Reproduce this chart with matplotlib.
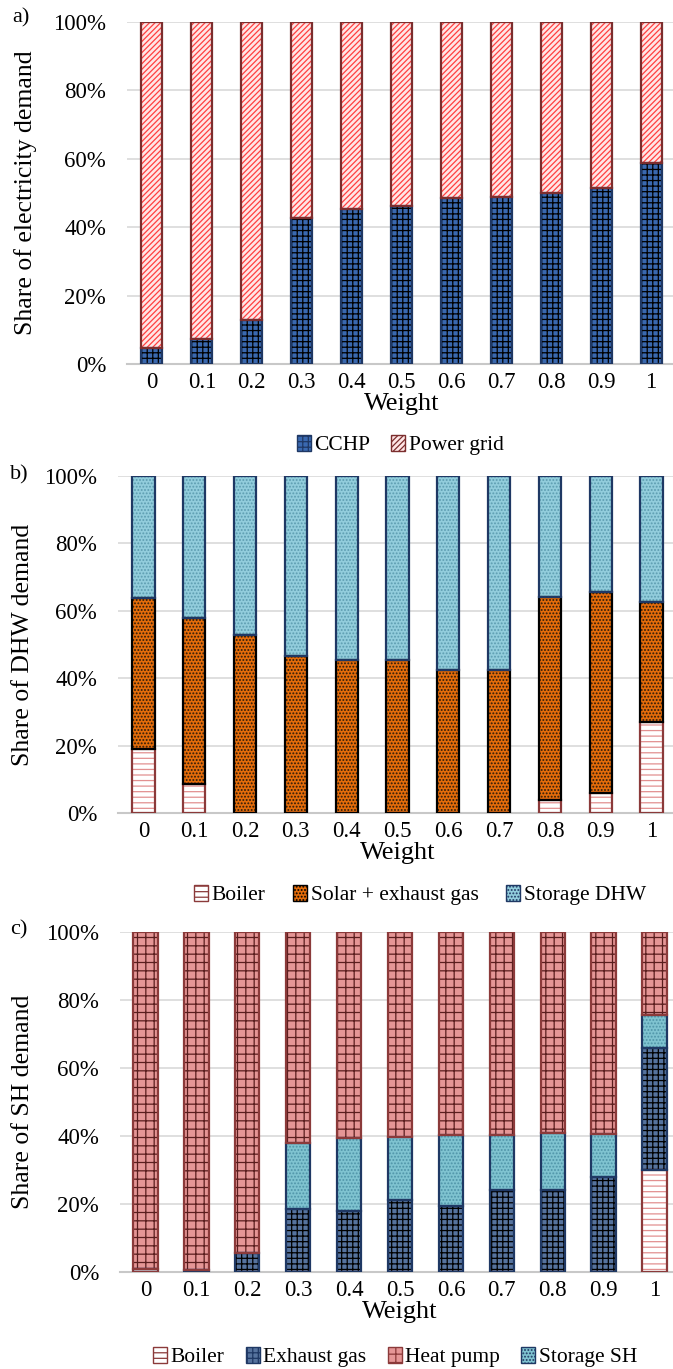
import matplotlib
matplotlib.use("Agg")
import matplotlib.pyplot as plt
from matplotlib.patches import Patch
import numpy as np

# ---------------- data ----------------
weights = ["0", "0.1", "0.2", "0.3", "0.4", "0.5", "0.6", "0.7", "0.8", "0.9", "1"]

# a) electricity (%)
cchp = [4.7, 7.3, 13.0, 42.6, 45.4, 46.3, 48.6, 48.8, 50.0, 51.4, 58.7]
power_grid = [100 - v for v in cchp]

# b) DHW (%)
dhw_boiler = [19.0, 8.7, 0, 0, 0, 0, 0, 0, 3.8, 5.9, 26.9]
dhw_solar_top = [63.7, 57.8, 52.9, 46.7, 45.5, 45.5, 42.3, 42.3, 64.0, 65.7, 62.7]
dhw_solar = [t - b for t, b in zip(dhw_solar_top, dhw_boiler)]
dhw_storage = [100 - t for t in dhw_solar_top]

# c) SH (%)
sh_boiler = [1.0, 0, 0, 0, 0, 0, 0, 0, 0, 0, 30.1]
sh_exhaust_top = [1.0, 0.5, 5.6, 18.4, 17.9, 21.3, 19.5, 24.2, 24.0, 28.0, 65.8]
sh_storage_top = [1.0, 0.5, 5.6, 37.8, 39.5, 39.7, 40.2, 40.2, 40.9, 40.7, 75.5]
sh_exhaust = [t - b for t, b in zip(sh_exhaust_top, sh_boiler)]
sh_storage = [s - e for s, e in zip(sh_storage_top, sh_exhaust_top)]
sh_heatpump = [100 - s for s in sh_storage_top]

# ---------------- style ----------------
W, H = 673, 1369
fig = plt.figure(figsize=(W / 100, H / 100), dpi=100)
plt.rcParams['font.family'] = ['Liberation Serif', 'DejaVu Serif']
plt.rcParams['hatch.linewidth'] = 0.9

def px_axes(left, top, right, bottom):
    return fig.add_axes([left / W, 1 - bottom / H, (right - left) / W, (bottom - top) / H])

STY = {
    'cchp':      dict(face='#3A69B0', hatch='+++', hc='#000000', edge='#1F3864'),
    'grid':      dict(face='#FFE6E6', hatch='//////', hc='#FF4040', edge='#7B2E2E'),
    'boiler':    dict(face='#FFFFFF', hatch='---', hc='#E29090', edge='#8B3A3A'),
    'solar':     dict(face='#E46C0A', hatch='.....', hc='#2A1A0A', edge='#000000'),
    'stor_dhw':  dict(face='#92CDDC', hatch='.....', hc='#5C9CB0', edge='#1F3864'),
    'exhaust':   dict(face='#56739E', hatch='+++', hc='#000000', edge='#1F3864'),
    'heatpump':  dict(face='#E59696', hatch='++', hc='#5A1E1E', edge='#8B3A3A'),
    'stor_sh':   dict(face='#7FC3D0', hatch='.....', hc='#4F94A8', edge='#1F3864'),
}

def draw_stack(ax, series, keys, width):
    x = np.arange(len(weights))
    bottom = np.zeros(len(weights))
    for vals, k in zip(series, keys):
        s = STY[k]
        vals = np.array(vals, dtype=float)
        ax.bar(x, vals, width, bottom=bottom, color=s['face'], hatch=s['hatch'],
               edgecolor=s['hc'], linewidth=0, zorder=2)
        ax.bar(x, vals, width, bottom=bottom, fill=False, edgecolor=s['edge'],
               linewidth=1.6, zorder=3)
        bottom += vals

def style_axes(ax, ylabel, ylab_x, tag, tag_xy):
    ax.set_xlim(-0.5, 10.5)
    ax.set_ylim(0, 100)
    ax.set_yticks(range(0, 101, 20))
    ax.set_yticklabels([f"{v}%" for v in range(0, 101, 20)])
    ax.set_xticks(range(len(weights)))
    ax.set_xticklabels(weights)
    ax.tick_params(axis='both', length=0, labelsize=16.5)
    ax.tick_params(axis='y', pad=15)
    ax.tick_params(axis='x', pad=6)
    for sp in ['top', 'right', 'left']:
        ax.spines[sp].set_visible(False)
    ax.spines['bottom'].set_color('#C8C8C8')
    ax.spines['bottom'].set_linewidth(1.5)
    ax.yaxis.grid(True, color='#D9D9D9', linewidth=1.2, zorder=0)
    ax.set_axisbelow(True)
    ax.set_xlabel("Weight", fontsize=19, labelpad=0)
    ax.set_ylabel(ylabel, fontsize=18.5)
    pos = ax.get_position()
    ax.yaxis.set_label_coords(ylab_x / W, pos.y0 + pos.height / 2, transform=fig.transFigure)
    fig.text(tag_xy[0] / W, 1 - tag_xy[1] / H, tag, fontsize=16, ha='left', va='center')

def legend(keys, labels, cx, cy, spacing):
    handles = [Patch(facecolor=STY[k]['face'], hatch=STY[k]['hatch'], edgecolor=STY[k]['edge'],
                     linewidth=1.0) for k in keys]
    fig.legend(handles, labels, loc='center', bbox_to_anchor=(cx / W, 1 - cy / H),
               ncol=len(keys), frameon=False, fontsize=15.5, handlelength=0.65,
               handleheight=0.8, handletextpad=0.15, columnspacing=spacing,
               borderaxespad=0)

# a)
ax1 = px_axes(127, 22, 676, 364)
draw_stack(ax1, [cchp, power_grid], ['cchp', 'grid'], 0.42)
style_axes(ax1, "Share of electricity demand", 37, "a)", (12, 18))
legend(['cchp', 'grid'], ["CCHP", "Power grid"], 400, 445, 1.0)

# b)
ax2 = px_axes(118, 476, 677, 813)
draw_stack(ax2, [dhw_boiler, dhw_solar, dhw_storage], ['boiler', 'solar', 'stor_dhw'], 0.44)
style_axes(ax2, "Share of DHW demand", 34, "b)", (10, 475))
legend(['boiler', 'solar', 'stor_dhw'], ["Boiler", "Solar + exhaust gas", "Storage DHW"], 420, 895, 1.3)

# c)
ax3 = px_axes(120, 932, 680, 1272)
draw_stack(ax3, [sh_boiler, sh_exhaust, sh_storage, sh_heatpump],
           ['boiler', 'exhaust', 'stor_sh', 'heatpump'], 0.48)
style_axes(ax3, "Share of SH demand", 34, "c)", (10, 930))
legend(['boiler', 'exhaust', 'heatpump', 'stor_sh'],
       ["Boiler", "Exhaust gas", "Heat pump", "Storage SH"], 395, 1357, 1.0)

fig.savefig("out.png", dpi=100)
